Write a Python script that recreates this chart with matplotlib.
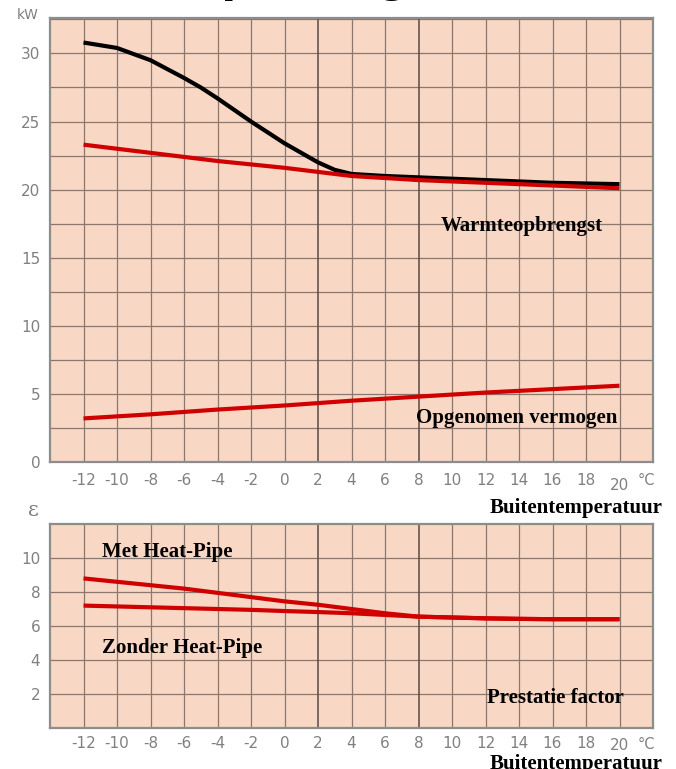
import numpy as np
import matplotlib
matplotlib.use('Agg')
import matplotlib.pyplot as plt
import matplotlib.transforms as mtransforms

# temperatuur (graden C)
temp = [-12, -10, -8, -6, -5, -4, -2, 0, 2, 3, 4, 6, 8, 10, 12, 14, 16, 18, 20]

# warmteopbrengst (kW)
opbrengst_zwart = [30.8, 30.4, 29.5, 28.2, 27.5, 26.7, 25.0, 23.4, 22.0, 21.45, 21.15,
                   21.0, 20.9, 20.8, 20.7, 20.6, 20.5, 20.45, 20.4]
opbrengst_rood = [23.3, 23.0, 22.7, 22.4, 22.25, 22.1, 21.85, 21.6, 21.3, 21.15, 21.0,
                  20.85, 20.7, 20.6, 20.5, 20.4, 20.3, 20.2, 20.1]

# opgenomen vermogen (kW)
temp_verm = [-12, -8, -4, 0, 4, 8, 12, 16, 20]
vermogen = [3.2, 3.5, 3.85, 4.15, 4.5, 4.8, 5.1, 5.35, 5.6]

# prestatie factor
temp_eps = [-12, -10, -8, -6, -4, -2, 0, 2, 4, 6, 8, 10, 12, 14, 16, 18, 20]
eps_met = [8.8, 8.6, 8.4, 8.2, 7.95, 7.7, 7.45, 7.25, 7.0, 6.75, 6.55, 6.5, 6.45, 6.42, 6.4, 6.4, 6.4]
eps_zonder = [7.2, 7.15, 7.1, 7.05, 7.0, 6.95, 6.88, 6.82, 6.75, 6.65, 6.55, 6.5, 6.45, 6.42, 6.4, 6.4, 6.4]

x_ticks = [-12, -10, -8, -6, -4, -2, 0, 2, 4, 6, 8, 10, 12, 14, 16, 18, 20]

bg = '#f8d7c4'
gridc = '#8a7870'
rood = '#d10000'
grijs = '#808080'
tickfont = ['Liberation Sans Narrow', 'DejaVu Sans']
serif = 'Liberation Serif'

fig = plt.figure(figsize=(6.76, 7.69), dpi=100)
W, H = 676, 769


def px_axes(left, top, right, bottom):
    return fig.add_axes([left / W, 1 - bottom / H, (right - left) / W, (bottom - top) / H])


def opmaak(ax, ymax, ystep, ylabels, xpad, shift20):
    ax.set_facecolor(bg)
    ax.set_xlim(-14, 22)
    ax.set_ylim(0, ymax)
    yt = np.arange(ystep, ymax, ystep)
    for y in yt:
        ax.axhline(y, color=gridc, lw=0.9, zorder=1)
    for x in x_ticks:
        dark = x in (2, 8)
        ax.axvline(x, color='#5a4a44' if dark else gridc, lw=1.1 if dark else 0.9, zorder=1)
    for s in ax.spines.values():
        s.set_color('#8d8d8d')
        s.set_linewidth(1.6)
    ax.set_xticks(x_ticks)
    ax.set_xticklabels([str(v) for v in x_ticks], color=grijs, family=tickfont, fontsize=11)
    ax.set_yticks(list(ylabels.keys()))
    ax.set_yticklabels(list(ylabels.values()), color=grijs, family=tickfont, fontsize=11)
    ax.tick_params(length=0, pad=7)
    ax.tick_params(axis='x', pad=xpad)
    # "20" staat iets lager
    lab = ax.get_xticklabels()[-1]
    lab.set_transform(lab.get_transform() + mtransforms.ScaledTranslation(0, -shift20 / 100, fig.dpi_scale_trans))
    ax.annotate('°C', xy=(21.6, 0), xycoords=ax.get_xaxis_transform(),
                xytext=(0, -xpad - 3), textcoords='offset pixels', color=grijs,
                family=tickfont, fontsize=10.5, ha='center', va='top')


# bovenste grafiek
ax1 = px_axes(50, 18, 653, 462)
opmaak(ax1, 32.6, 2.5, {0: '0', 5: '5', 10: '10', 15: '15', 20: '20', 25: '25', 30: '30'}, 8, 5)
ax1.plot(temp, opbrengst_zwart, color='black', lw=3, solid_capstyle='butt', zorder=3)
ax1.plot(temp, opbrengst_rood, color=rood, lw=3, solid_capstyle='butt', zorder=4)
ax1.plot(temp_verm, vermogen, color=rood, lw=3, solid_capstyle='butt', zorder=4)
ax1.text(14.15, 17.35, 'Warmteopbrengst', family=serif, weight='bold', fontsize=15,
         ha='center', va='center', zorder=5)
ax1.text(13.85, 3.2, 'Opgenomen vermogen', family=serif, weight='bold', fontsize=15,
         ha='center', va='center', zorder=5)
fig.text(28 / W, 1 - 15 / H, 'kW', color=grijs, family=tickfont, fontsize=10, ha='center', va='center')
fig.text(663 / W, 1 - 508 / H, 'Buitentemperatuur', family=serif, weight='bold', fontsize=15,
         ha='right', va='center')

# onderste grafiek
ax2 = px_axes(50, 524, 653, 728)
opmaak(ax2, 12, 2, {2: '2', 4: '4', 6: '6', 8: '8', 10: '10'}, 6, 2)
ax2.plot(temp_eps, eps_met, color=rood, lw=3, solid_capstyle='butt', zorder=4)
ax2.plot(temp_eps, eps_zonder, color=rood, lw=3, solid_capstyle='butt', zorder=4)
ax2.text(-10.9, 10.35, 'Met Heat-Pipe', family=serif, weight='bold', fontsize=15,
         ha='left', va='center', zorder=5)
ax2.text(-10.9, 4.7, 'Zonder Heat-Pipe', family=serif, weight='bold', fontsize=15,
         ha='left', va='center', zorder=5)
ax2.text(12.1, 1.75, 'Prestatie factor', family=serif, weight='bold', fontsize=15,
         ha='left', va='center', zorder=5)
fig.text(33 / W, 1 - 511 / H, 'ε', color=grijs, family='DejaVu Serif', fontsize=15, ha='center', va='center')
fig.text(663 / W, 0.5 / H, 'Buitentemperatuur', family=serif, weight='bold', fontsize=15,
         ha='right', va='baseline')

# titel, grotendeels buiten beeld
fig.text(319 / W, 1 + 11 / H, 'Opbrengst', family='Liberation Sans', weight='bold', fontsize=40,
         ha='center', va='baseline')

fig.savefig('out.png', dpi=100)
